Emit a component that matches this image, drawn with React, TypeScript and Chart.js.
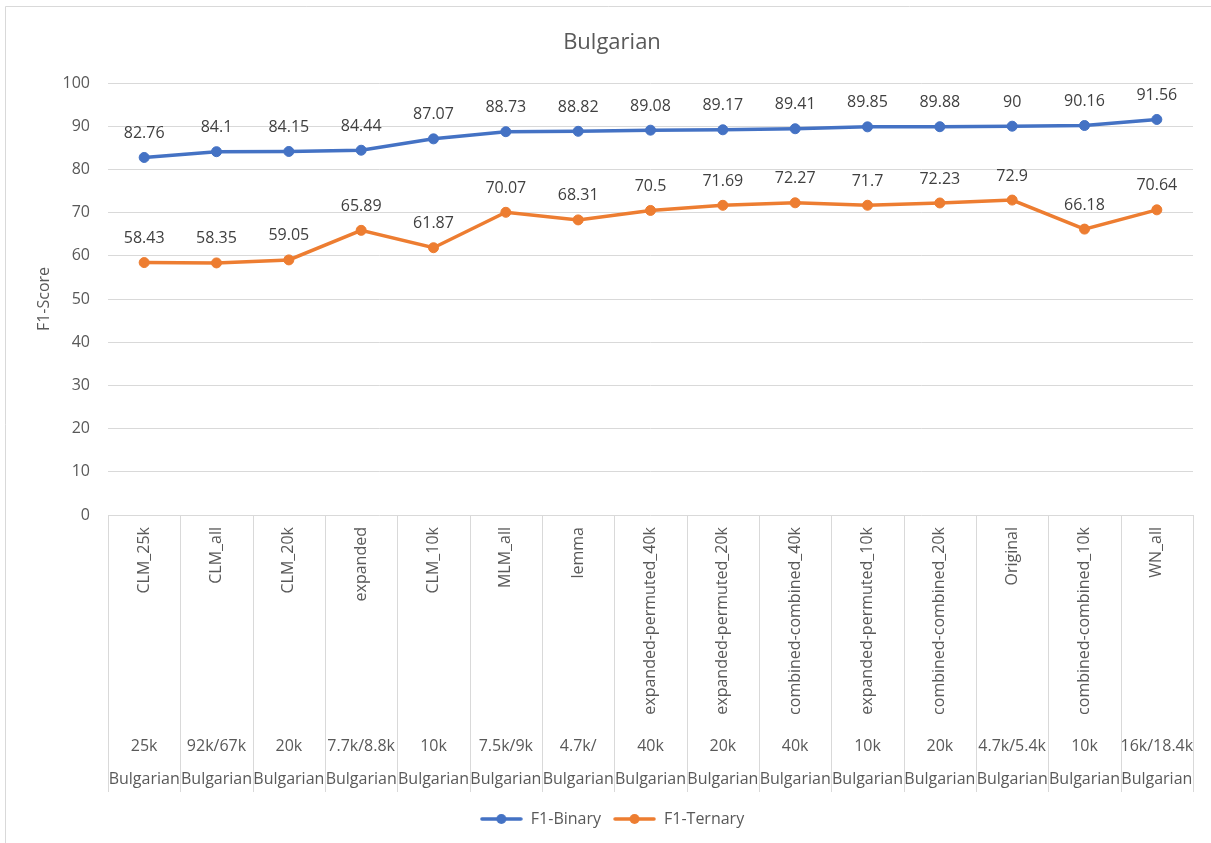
import React, { useEffect, useRef } from 'react';
import { Chart, registerables } from 'chart.js';

Chart.register(...registerables);

const chartTitle = 'Bulgarian';
const yAxisTitle = 'F1-Score';
const methods = [
  'CLM_25k', 'CLM_all', 'CLM_20k', 'expanded', 'CLM_10k', 'MLM_all', 'lemma',
  'expanded-permuted_40k', 'expanded-permuted_20k', 'combined-combined_40k',
  'expanded-permuted_10k', 'combined-combined_20k', 'Original', 'combined-combined_10k', 'WN_all',
];
const sizes = [
  '25k', '92k/67k', '20k', '7.7k/8.8k', '10k', '7.5k/9k', '4.7k/', '40k', '20k', '40k',
  '10k', '20k', '4.7k/5.4k', '10k', '16k/18.4k',
];
const languages = [
  'Bulgarian', 'Bulgarian', 'Bulgarian', 'Bulgarian', 'Bulgarian', 'Bulgarian', 'Bulgarian',
  'Bulgarian', 'Bulgarian', 'Bulgarian', 'Bulgarian', 'Bulgarian', 'Bulgarian', 'Bulgarian', 'Bulgarian',
];
const f1Binary = [82.76, 84.1, 84.15, 84.44, 87.07, 88.73, 88.82, 89.08, 89.17, 89.41, 89.85, 89.88, 90, 90.16, 91.56];
const f1Ternary = [58.43, 58.35, 59.05, 65.89, 61.87, 70.07, 68.31, 70.5, 71.69, 72.27, 71.7, 72.23, 72.9, 66.18, 70.64];
const seriesNames = ['F1-Binary', 'F1-Ternary'];
const seriesColors = ['#4472C4', '#ED7D31'];
const yMin = 0;
const yMax = 100;
const yStep = 10;

const FONT = "'Open Sans', 'DejaVu Sans', sans-serif";
const AXIS_COLOR = '#595959';
const LABEL_COLOR = '#404040';
const GRID_COLOR = '#d9d9d9';

function makeLegendIcon(color: string): HTMLCanvasElement {
  const c = document.createElement('canvas');
  c.width = 43;
  c.height = 12;
  const ctx = c.getContext('2d')!;
  ctx.strokeStyle = color;
  ctx.lineWidth = 3.5;
  ctx.lineCap = 'round';
  ctx.beginPath();
  ctx.moveTo(2, 6);
  ctx.lineTo(41, 6);
  ctx.stroke();
  ctx.fillStyle = color;
  ctx.beginPath();
  ctx.arc(21.5, 6, 5, 0, Math.PI * 2);
  ctx.fill();
  return c;
}

const decorPlugin = {
  id: 'decor',
  beforeDraw(chart: any) {
    const ctx = chart.ctx;
    ctx.save();
    ctx.fillStyle = '#ffffff';
    ctx.fillRect(0, 0, chart.width, chart.height);
    ctx.strokeStyle = GRID_COLOR;
    ctx.lineWidth = 1;
    ctx.beginPath();
    ctx.moveTo(5.5, chart.height);
    ctx.lineTo(5.5, 6.5);
    ctx.lineTo(chart.width, 6.5);
    ctx.stroke();
    ctx.restore();
  },
  afterDraw(chart: any) {
    const ctx = chart.ctx;
    const x = chart.scales.x;
    const area = chart.chartArea;
    const n = methods.length;
    const half = (x.getPixelForValue(1) - x.getPixelForValue(0)) / 2;
    ctx.save();
    ctx.strokeStyle = GRID_COLOR;
    ctx.lineWidth = 1;
    ctx.beginPath();
    for (let i = 0; i <= n; i++) {
      const px = i < n ? x.getPixelForValue(i) - half : x.getPixelForValue(n - 1) + half;
      const rx = Math.round(px) + 0.5;
      ctx.moveTo(rx, area.bottom);
      ctx.lineTo(rx, area.bottom + 277);
    }
    ctx.stroke();
    ctx.fillStyle = AXIS_COLOR;
    ctx.font = `16px ${FONT}`;
    for (let i = 0; i < n; i++) {
      const cx = x.getPixelForValue(i);
      ctx.save();
      ctx.translate(cx, area.bottom + 12);
      ctx.rotate(-Math.PI / 2);
      ctx.textAlign = 'right';
      ctx.textBaseline = 'middle';
      ctx.fillText(methods[i], 0, 0);
      ctx.restore();
      ctx.textAlign = 'center';
      ctx.textBaseline = 'middle';
      ctx.fillText(sizes[i], cx, area.bottom + 231);
      ctx.fillText(languages[i], cx, area.bottom + 264);
    }
    ctx.restore();
  },
  afterDatasetsDraw(chart: any) {
    const ctx = chart.ctx;
    ctx.save();
    ctx.fillStyle = LABEL_COLOR;
    ctx.font = `16px ${FONT}`;
    ctx.textAlign = 'center';
    ctx.textBaseline = 'middle';
    chart.data.datasets.forEach((ds: any, di: number) => {
      const meta = chart.getDatasetMeta(di);
      meta.data.forEach((pt: any, i: number) => {
        ctx.fillText(String(ds.data[i]), pt.x, pt.y - 24);
      });
    });
    ctx.restore();
  },
};

export default function App() {
  const ref = useRef<HTMLCanvasElement | null>(null);
  useEffect(() => {
    if (!ref.current) return;
    const icons = seriesColors.map(makeLegendIcon);
    const chart = new Chart(ref.current, {
      type: 'line',
      data: {
        labels: methods,
        datasets: [
          {
            label: seriesNames[0],
            data: f1Binary,
            borderColor: seriesColors[0],
            backgroundColor: seriesColors[0],
            pointBackgroundColor: seriesColors[0],
            pointBorderColor: seriesColors[0],
            borderWidth: 3.5,
            pointRadius: 5,
            pointBorderWidth: 1,
            tension: 0,
          },
          {
            label: seriesNames[1],
            data: f1Ternary,
            borderColor: seriesColors[1],
            backgroundColor: seriesColors[1],
            pointBackgroundColor: seriesColors[1],
            pointBorderColor: seriesColors[1],
            borderWidth: 3.5,
            pointRadius: 5,
            pointBorderWidth: 1,
            tension: 0,
          },
        ],
      },
      options: {
        responsive: false,
        maintainAspectRatio: false,
        animation: false,
        layout: { padding: { left: 31, right: 18, top: 0, bottom: 6 } },
        plugins: {
          title: {
            display: true,
            text: chartTitle,
            color: AXIS_COLOR,
            font: { family: FONT, size: 22, weight: 'normal' },
            padding: { top: 30, bottom: 26.6 },
          },
          legend: {
            display: true,
            position: 'bottom',
            labels: {
              usePointStyle: true,
              pointStyleWidth: 43,
              padding: 12,
              color: AXIS_COLOR,
              font: { family: FONT, size: 16 },
              generateLabels: (c: any) =>
                c.data.datasets.map((ds: any, i: number) => ({
                  text: ds.label,
                  pointStyle: icons[i],
                  fillStyle: ds.borderColor,
                  strokeStyle: ds.borderColor,
                  lineWidth: 0,
                  hidden: false,
                  datasetIndex: i,
                  fontColor: AXIS_COLOR,
                })),
            },
          },
          tooltip: { enabled: false },
        },
        scales: {
          x: {
            type: 'category',
            offset: true,
            grid: { display: false },
            border: { display: false },
            ticks: { display: false },
            afterFit: (s: any) => {
              s.height = 284;
            },
          },
          y: {
            min: yMin,
            max: yMax,
            ticks: {
              stepSize: yStep,
              color: AXIS_COLOR,
              font: { family: FONT, size: 16 },
              padding: 18,
            },
            grid: { color: GRID_COLOR, drawTicks: false, lineWidth: 1 },
            border: { display: false },
            title: {
              display: true,
              text: yAxisTitle,
              color: AXIS_COLOR,
              font: { family: FONT, size: 16 },
            },
            afterFit: (s: any) => {
              s.width = 77;
            },
          },
        },
      },
      plugins: [decorPlugin],
    } as any);
    return () => chart.destroy();
  }, []);
  return (
    <div style={{ position: 'absolute', left: 0, top: 0, width: 1211, height: 843, background: '#fff' }}>
      <canvas ref={ref} width={1211} height={843} style={{ display: 'block' }} />
    </div>
  );
}
